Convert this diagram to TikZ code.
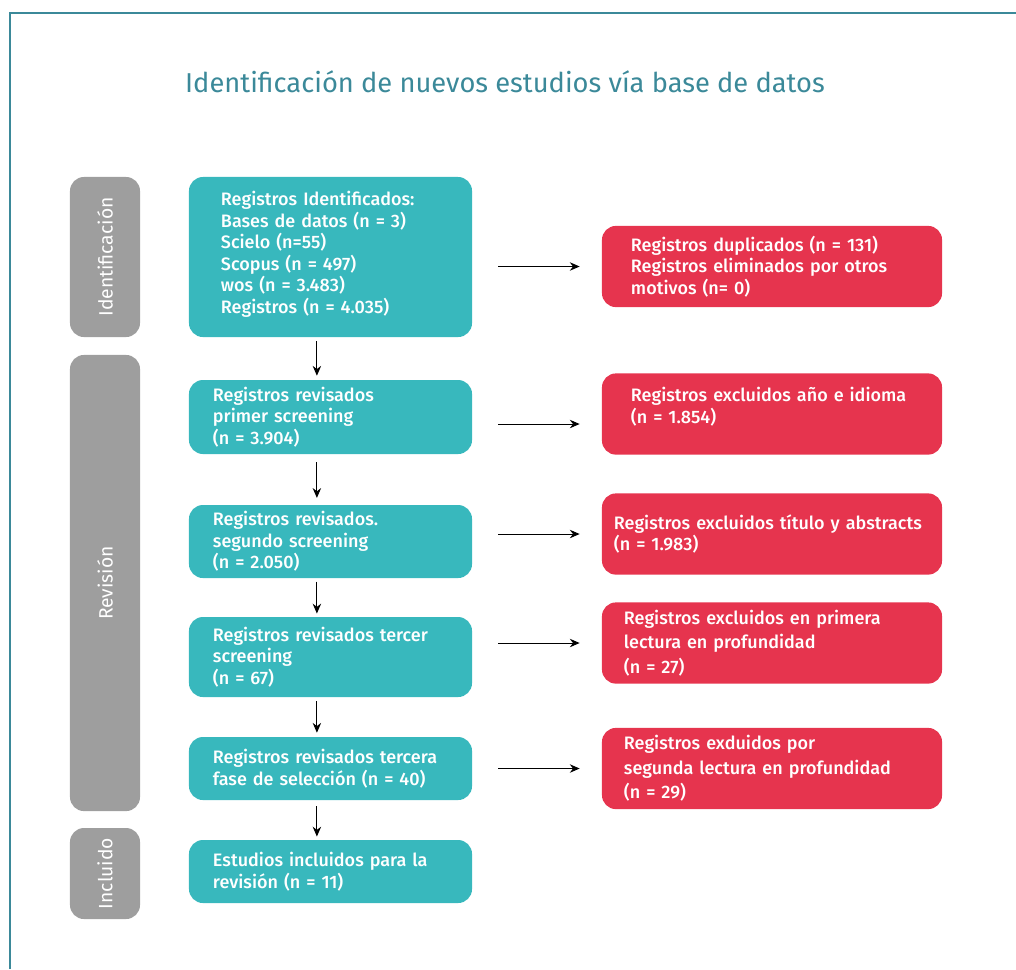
\documentclass[tikz,border=0pt]{standalone}
\usepackage{fontspec}
\setmainfont{Fira Sans}
\newfontfamily\medio{Fira Sans Medium}
\usetikzlibrary{arrows.meta}

\definecolor{verdecaja}{RGB}{56,184,189}
\definecolor{rojocaja}{RGB}{230,52,78}
\definecolor{griscaja}{RGB}{158,158,158}
\definecolor{titulo}{RGB}{59,137,153}

\tikzset{
	texto/.style={font=\medio\fontsize{12.8}{15.3}\selectfont, text=white, align=left},
	paso/.style={texto, fill=verdecaja, rounded corners=0.35cm, inner xsep=0.6cm, text width=5.875cm, minimum height=#1},
	descarte/.style={texto, fill=rojocaja, rounded corners=0.35cm, minimum width=8.5cm, minimum height=2.03cm},
	fase/.style={texto, font=\fontsize{13.7}{15}\selectfont, fill=griscaja, rounded corners=0.35cm, rotate=90, minimum height=1.75cm, minimum width=#1},
	flecha/.style={-{Stealth[length=7pt,width=6pt]}, line width=0.7pt},
}

\begin{document}
\begin{tikzpicture}[x=0.025cm, y=-0.025cm]

	\useasboundingbox (0,0) rectangle (1016,969);
	\draw[titulo, line width=1pt] (10,969) -- (10,13) -- (1016,13);

	\node[anchor=base, text=titulo, font=\fontsize{19.4}{23}\selectfont] (tit) at (505,92) {Identificación de nuevos estudios vía base de datos};

	\node[fase=4cm] (g1) at (105,257) {Identificación};
	\node[fase=11.4cm] (g2) at (105,583) {Revisión};
	\node[fase=2.275cm] (g3) at (105,873.5) {Incluido};

	\node[paso=4cm, inner xsep=0.8cm, text width=5.475cm] (b1) at (330.5,257) {Registros Identificados:\\Bases de datos (n = 3)\\Scielo (n=55)\\Scopus (n = 497)\\wos (n = 3.483)\\Registros (n = 4.035)\\[-0.3cm]\mbox{}};
	\node[paso=1.85cm] (b2) at (330.5,417) {Registros revisados\\primer screening\\(n = 3.904)};
	\node[paso=1.825cm] (b3) at (330.5,541.5) {Registros revisados.\\segundo screening\\(n = 2.050)};
	\node[paso=2cm] (b4) at (330.5,657) {Registros revisados tercer\\screening\\(n = 67)};
	\node[paso=1.575cm] (b5) at (330.5,768.5) {Registros revisados tercera\\fase de selección (n = 40)};
	\node[paso=1.575cm] (b6) at (330.5,871.5) {Estudios incluidos para la\\revisión (n = 11)};

	\node[descarte, inner xsep=0.725cm, text width=7.05cm] (r1) at (772,266.5) {Registros duplicados (n = 131)\\Registros eliminados por otros\\motivos (n= 0)};
	\node[descarte, inner xsep=0.725cm, text width=7.05cm] (r2) at (772,414) {Registros excluidos año e idioma\\(n = 1.854)\\[-0.1cm]\mbox{}};
	\node[descarte, inner xsep=0.3cm, text width=7.9cm] (r3) at (772,534) {Registros excluidos título y abstracts\\(n = 1.983)};
	\node[descarte, inner xsep=0.55cm, text width=7.4cm, font=\medio\fontsize{12.8}{17.4}\selectfont] (r4) at (772,643) {Registros excluidos en primera\\lectura en profundidad\\(n = 27)};
	\node[descarte, inner xsep=0.55cm, text width=7.4cm, font=\medio\fontsize{12.8}{17.4}\selectfont] (r5) at (772,768.5) {Registros exduidos por\\segunda lectura en profundidad\\(n = 29)};

	\draw[flecha, shorten <=0.1cm, shorten >=0.1cm] ([xshift=-0.34cm]b1.south) -- ([xshift=-0.34cm]b2.north);
	\draw[flecha, shorten <=0.2cm, shorten >=0.17cm] ([xshift=-0.34cm]b2.south) -- ([xshift=-0.34cm]b3.north);
	\draw[flecha, shorten <=0.08cm, shorten >=0.08cm] ([xshift=-0.34cm]b3.south) -- ([xshift=-0.34cm]b4.north);
	\draw[flecha, shorten <=0.1cm, shorten >=0.1cm] ([xshift=-0.34cm]b4.south) -- ([xshift=-0.34cm]b5.north);
	\draw[flecha, shorten <=0.15cm, shorten >=0.08cm] ([xshift=-0.34cm]b5.south) -- ([xshift=-0.34cm]b6.north);

	\draw[flecha, shorten <=0.65cm, shorten >=0.55cm] (b1.east |- r1.west) -- (r1.west);
	\draw[flecha, shorten <=0.65cm, shorten >=0.55cm] ([yshift=-0.25cm]b2.east |- r2.west) -- ([yshift=-0.25cm]r2.west);
	\draw[flecha, shorten <=0.65cm, shorten >=0.55cm] (b3.east |- r3.west) -- (r3.west);
	\draw[flecha, shorten <=0.65cm, shorten >=0.55cm] (b4.east |- r4.west) -- (r4.west);
	\draw[flecha, shorten <=0.65cm, shorten >=0.55cm] (b5.east |- r5.west) -- (r5.west);

\end{tikzpicture}
\end{document}
